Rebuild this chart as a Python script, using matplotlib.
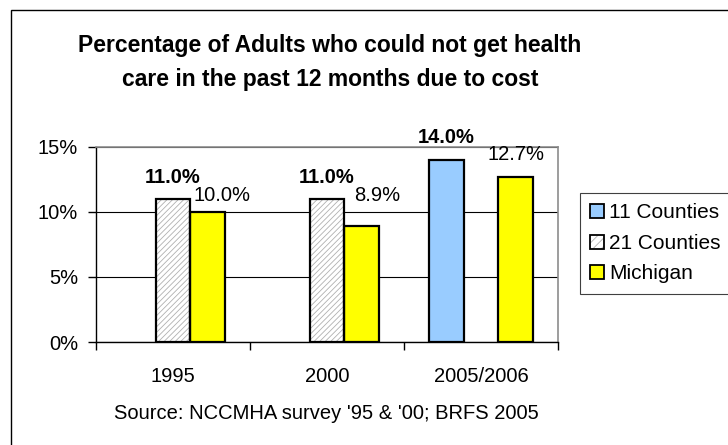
import matplotlib
matplotlib.use('Agg')
import matplotlib.pyplot as plt
from matplotlib.patches import Patch, Rectangle
from matplotlib.legend_handler import HandlerTuple
import numpy as np

# ---- data ----
categories = ['1995', '2000', '2005/2006']
series_names = ['11 Counties', '21 Counties', 'Michigan']
counties11 = [np.nan, np.nan, 14.0]
counties21 = [11.0, 11.0, np.nan]
michigan = [10.0, 8.9, 12.7]
yticks = [0, 5, 10, 15]
ytick_labels = ['0%', '5%', '10%', '15%']
title_lines = ['Percentage of Adults who could not get health',
               'care in the past 12 months due to cost']
source = "Source: NCCMHA survey '95 & '00; BRFS 2005"

# ---- styling / label placement (points) ----
blue = '#99ccff'
yellow = '#ffff00'
hatch_col = '#b0b0b0'
lbl_off_11 = [(0, 12), (0, 12), (0, 12)]
lbl_off_21 = [(0, 11.5), (0, 11.5), (0, 11.5)]
lbl_off_mi = [(10, 8), (11, 18), (0, 12)]

plt.rcParams['font.family'] = ['Liberation Sans', 'DejaVu Sans']
plt.rcParams['hatch.linewidth'] = 0.6

fig = plt.figure(figsize=(7.28, 4.45), dpi=100)
ax = fig.add_axes([96/728, 1 - 342/445, (558 - 96)/728, (342 - 147)/445])

x = np.arange(len(categories))
w = 0.225
edge_lw = 1.6

ax.bar(x - w, counties11, w, color=blue, edgecolor='black', linewidth=edge_lw, zorder=3)
ax.bar(x, counties21, w, color='white', edgecolor=hatch_col, hatch='//////', linewidth=0, zorder=3)
ax.bar(x, counties21, w, fill=False, edgecolor='black', linewidth=edge_lw, zorder=4)
ax.bar(x + w, michigan, w, color=yellow, edgecolor='black', linewidth=edge_lw, zorder=3)

def labels(xs, vals, offs, bold):
    for xi, v, (dx, dy) in zip(xs, vals, offs):
        if np.isnan(v):
            continue
        ax.annotate(f'{v:.1f}%', (xi, v), xytext=(dx, dy), textcoords='offset points',
                    ha='center', va='baseline', fontsize=14.5,
                    fontweight='bold' if bold else 'normal', zorder=5, annotation_clip=False)

labels(x - w, counties11, lbl_off_11, True)
labels(x, counties21, lbl_off_21, True)
labels(x + w, michigan, lbl_off_mi, False)

ax.set_xlim(-0.5, len(categories) - 0.5)
ax.set_ylim(0, 15)
ax.set_yticks(yticks)
ax.set_yticklabels(ytick_labels, fontsize=14.5)
ax.set_xticks(x)
ax.set_xticklabels(categories, fontsize=14.5)
ax.set_xticks(np.arange(len(categories) + 1) - 0.5, minor=True)
ax.tick_params(axis='x', which='major', length=0, pad=18)
ax.tick_params(axis='x', which='minor', length=6, width=1, color='black', direction='out')
ax.tick_params(axis='y', length=6, width=1, direction='out', pad=7)
ax.yaxis.grid(True, color='black', linewidth=0.8, zorder=1)
ax.set_axisbelow(True)
for s in ['top', 'right']:
    ax.spines[s].set_color('#8c8c8c')
    ax.spines[s].set_linewidth(1.2)
for s in ['left', 'bottom']:
    ax.spines[s].set_color('black')
    ax.spines[s].set_linewidth(1.0)

for line, base in zip(title_lines, [52, 86]):
    fig.text(330/728, 1 - base/445, line, ha='center', va='baseline', fontsize=16.5,
             fontweight='bold')
fig.text(326/728, 1 - 419/445, source, ha='center', va='baseline', fontsize=14.5)

# outer chart border
fig.patches.append(Rectangle((11/728, -0.05), 1.0, 1 - 10/445 + 0.05, transform=fig.transFigure,
                             fill=False, edgecolor='black', linewidth=1.0, figure=fig))

h11 = Patch(facecolor=blue, edgecolor='black', linewidth=1.3)
h21 = (Patch(facecolor='white', edgecolor=hatch_col, hatch='////', linewidth=0),
       Patch(fill=False, edgecolor='black', linewidth=1.3))
hmi = Patch(facecolor=yellow, edgecolor='black', linewidth=1.3)
leg = fig.legend([h11, h21, hmi], series_names, loc='upper left',
                 bbox_to_anchor=(580/728, 1 - 193/445), bbox_transform=fig.transFigure,
                 fontsize=15, frameon=True, fancybox=False, framealpha=1,
                 edgecolor='#404040', borderaxespad=0, handlelength=0.65, handleheight=0.65,
                 handletextpad=0.25, labelspacing=0.55, borderpad=0.5,
                 handler_map={tuple: HandlerTuple(ndivide=1)})
leg.get_frame().set_linewidth(0.8)

fig.savefig('out.png', dpi=100)
